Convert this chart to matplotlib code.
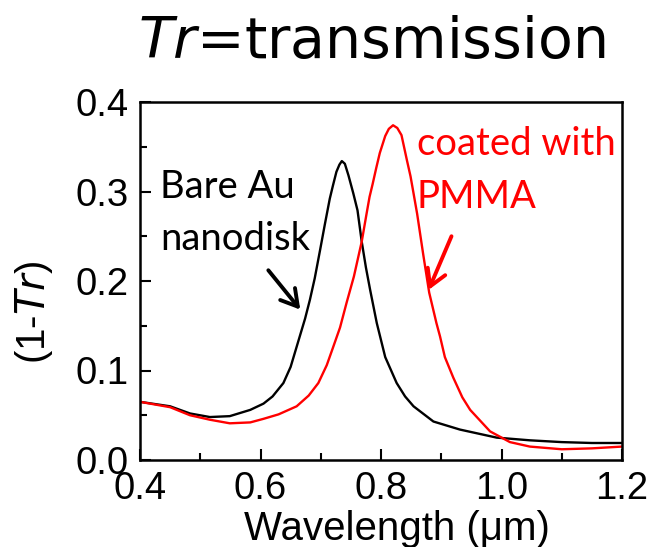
import matplotlib
matplotlib.use("Agg")
import matplotlib.pyplot as plt
from matplotlib.ticker import MultipleLocator

# ---- data ----
bare_wl = [0.40, 0.45, 0.483, 0.516, 0.549, 0.583, 0.605, 0.620, 0.638, 0.650,
           0.666, 0.674, 0.682, 0.690, 0.699, 0.707, 0.715, 0.720, 0.726, 0.731,
           0.735, 0.740, 0.746, 0.754, 0.761, 0.768, 0.775, 0.782, 0.793, 0.807,
           0.826, 0.840, 0.854, 0.887, 0.931, 0.992, 1.047, 1.10, 1.15, 1.20]
bare_abs = [0.065, 0.060, 0.052, 0.048, 0.049, 0.056, 0.063, 0.071, 0.086, 0.104,
            0.140, 0.158, 0.179, 0.203, 0.235, 0.264, 0.292, 0.306, 0.322, 0.330,
            0.334, 0.331, 0.318, 0.298, 0.279, 0.244, 0.215, 0.190, 0.153, 0.115,
            0.086, 0.071, 0.060, 0.043, 0.034, 0.025, 0.022, 0.020, 0.019, 0.019]

pmma_wl = [0.40, 0.45, 0.483, 0.516, 0.549, 0.583, 0.605, 0.630, 0.660, 0.680,
           0.696, 0.710, 0.720, 0.732, 0.743, 0.755, 0.768, 0.776, 0.781, 0.786,
           0.792, 0.798, 0.807, 0.813, 0.820, 0.827, 0.834, 0.843, 0.849, 0.854,
           0.860, 0.870, 0.880, 0.892, 0.898, 0.906, 0.920, 0.935, 0.948, 0.981,
           1.014, 1.047, 1.10, 1.15, 1.20]
pmma_abs = [0.065, 0.059, 0.050, 0.045, 0.041, 0.042, 0.046, 0.051, 0.060, 0.072,
            0.086, 0.106, 0.125, 0.148, 0.176, 0.205, 0.244, 0.275, 0.294, 0.308,
            0.326, 0.343, 0.362, 0.370, 0.374, 0.371, 0.363, 0.335, 0.317, 0.298,
            0.275, 0.230, 0.187, 0.153, 0.138, 0.115, 0.092, 0.070, 0.056, 0.032,
            0.020, 0.015, 0.012, 0.013, 0.015]

x_ticks = [0.4, 0.6, 0.8, 1.0, 1.2]
y_ticks = [0.0, 0.1, 0.2, 0.3, 0.4]

W, H = 656, 547
fig = plt.figure(figsize=(W / 100, H / 100), dpi=100)
ax = fig.add_axes([140 / W, 1 - 460 / H, (622 - 140) / W, (460 - 102) / H])

ax.plot(bare_wl, bare_abs, color="black", lw=1.7)
ax.plot(pmma_wl, pmma_abs, color="#ff0000", lw=1.7)

ax.set_xlim(0.4, 1.2)
ax.set_ylim(0.0, 0.4)
ax.set_xticks(x_ticks)
ax.set_yticks(y_ticks)
ax.set_xticklabels([f"{v:.1f}" for v in x_ticks])
ax.set_yticklabels([f"{v:.1f}" for v in y_ticks])
ax.xaxis.set_minor_locator(MultipleLocator(0.1))
ax.yaxis.set_minor_locator(MultipleLocator(0.05))

for lab in ax.get_xticklabels() + ax.get_yticklabels():
    lab.set_fontfamily("Liberation Sans")
    lab.set_fontsize(27.5)
ax.tick_params(which="major", direction="in", length=8, width=1.5,
               top=False, right=False)
ax.tick_params(which="minor", direction="in", length=5, width=1.5,
               top=False, right=False)
ax.tick_params(axis="y", which="major", pad=8)
ax.tick_params(axis="x", which="major", pad=8)
for s in ax.spines.values():
    s.set_linewidth(1.8)

# axis labels
fig.text(397 / W, 1 - 529 / H, "Wavelength (\u03bcm)", ha="center", va="center",
         fontfamily="Liberation Sans", fontsize=29)
fig.text(34 / W, 1 - 312 / H, r"(1-$\mathit{Tr}$)", ha="center", va="center",
         rotation=90, fontfamily="Liberation Sans", fontsize=29)

# title
fig.text(372 / W, 1 - 58 / H, r"$\mathit{Tr}$=transmission", ha="center",
         va="baseline", fontfamily="DejaVu Sans", fontsize=41)

# annotations
ann_font = dict(fontfamily="Lato", fontsize=27.5, ha="left", va="baseline")
ax.text(0.433, 0.293, "Bare Au", color="black", **ann_font)
ax.text(0.433, 0.235, "nanodisk", color="black", **ann_font)
ax.text(0.859, 0.341, "coated with", color="#ff0000", **ann_font)
ax.text(0.859, 0.282, "PMMA", color="#ff0000", **ann_font)

ax.annotate("", xy=(0.666, 0.168), xytext=(0.613, 0.212),
            arrowprops=dict(arrowstyle="->,head_length=0.65,head_width=0.38",
                            color="black", lw=2.8, mutation_scale=18,
                            shrinkA=0, shrinkB=0))
ax.annotate("", xy=(0.879, 0.190), xytext=(0.917, 0.250),
            arrowprops=dict(arrowstyle="->,head_length=0.65,head_width=0.38",
                            color="#ff0000", lw=2.8, mutation_scale=18,
                            shrinkA=0, shrinkB=0))

fig.savefig("out.png", dpi=100)
